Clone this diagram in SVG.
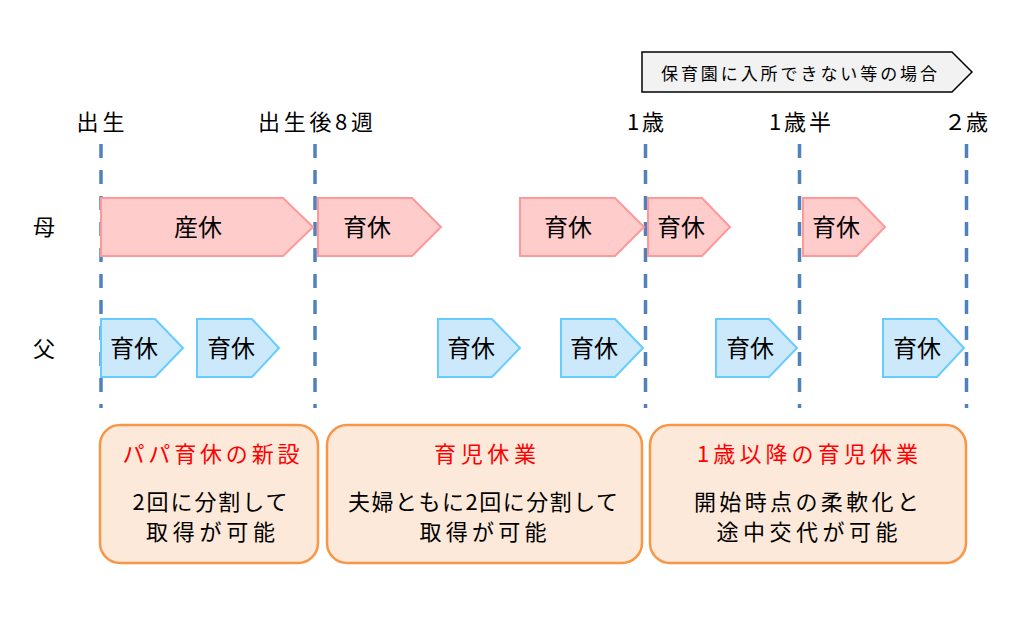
<svg xmlns="http://www.w3.org/2000/svg" width="1024" height="625" viewBox="0 0 1024 625">
<style>
text{font-family:"Noto Sans CJK JP","Noto Sans CJK SC",sans-serif;fill:#000;text-anchor:middle}
.lbl{font-size:22px}
.tag{font-size:24px}
.mom{fill:#ffcccc;stroke:#ff9999;stroke-width:2}
.dad{fill:#cce9fb;stroke:#66ccff;stroke-width:2}
.box{fill:#fde9d9;stroke:#f79646;stroke-width:2.5}
.ttl{font-size:22px;fill:#ff0000}
.body{font-size:22px}
.dash{stroke:#4f81bd;stroke-width:3.5;stroke-dasharray:14 12;fill:none}
</style>
<rect width="1024" height="625" fill="#fff"/>
<g id="connectors">
<line class="dash" x1="101" y1="144" x2="101" y2="408"/>
<line class="dash" x1="315" y1="144" x2="315" y2="408"/>
<line class="dash" x1="645.5" y1="144" x2="645.5" y2="408"/>
<line class="dash" x1="799.5" y1="144" x2="799.5" y2="408"/>
<line class="dash" x1="966.5" y1="144" x2="966.5" y2="408"/>
</g>
<g id="note">
<polygon points="642,52 952,52 972,72 952,92 642,92" fill="#f2f2f2" stroke="#000" stroke-width="1.5"/>
<text x="799" y="80" style="font-size:17px" textLength="276" lengthAdjust="spacing">保育園に入所できない等の場合</text>
</g>
<g id="timeline-labels">
<text class="lbl" x="100.5" y="130" textLength="48" lengthAdjust="spacing">出生</text>
<text class="lbl" x="315.5" y="130" textLength="115" lengthAdjust="spacing">出生後8週</text>
<text class="lbl" x="645.5" y="130" textLength="37" lengthAdjust="spacing">1歳</text>
<text class="lbl" x="800" y="130" textLength="62" lengthAdjust="spacing">1歳半</text>
<text class="lbl" x="966" y="130" textLength="44" lengthAdjust="spacing">２歳</text>
</g>
<g id="row-labels">
<text class="lbl" x="44" y="235">母</text>
<text class="lbl" x="44" y="357">父</text>
</g>
<g id="mother">
<g id="m1"><polygon class="mom" points="101,198 283,198 313,227 283,256 101,256"/><text class="tag" x="198" y="236">産休</text></g>
<g id="m2"><polygon class="mom" points="318,198 412,198 441,227 412,256 318,256"/><text class="tag" x="367" y="236">育休</text></g>
<g id="m3"><polygon class="mom" points="520,198 615,198 644,227 615,256 520,256"/><text class="tag" x="568" y="236">育休</text></g>
<g id="m4"><polygon class="mom" points="648,198 702,198 730,227 702,256 648,256"/><text class="tag" x="681" y="236">育休</text></g>
<g id="m5"><polygon class="mom" points="803,198 857,198 885,227 857,256 803,256"/><text class="tag" x="836" y="236">育休</text></g>
</g>
<g id="father">
<g id="f1"><polygon class="dad" points="101,319 155,319 183,348 155,377 101,377"/><text class="tag" x="134" y="357">育休</text></g>
<g id="f2"><polygon class="dad" points="197,319 252,319 279,348 252,377 197,377"/><text class="tag" x="231" y="357">育休</text></g>
<g id="f3"><polygon class="dad" points="438,319 492,319 520,348 492,377 438,377"/><text class="tag" x="471" y="357">育休</text></g>
<g id="f4"><polygon class="dad" points="561,319 615,319 643,348 615,377 561,377"/><text class="tag" x="594" y="357">育休</text></g>
<g id="f5"><polygon class="dad" points="716,319 769,319 797,348 769,377 716,377"/><text class="tag" x="750" y="357">育休</text></g>
<g id="f6"><polygon class="dad" points="883,319 937,319 964,348 937,377 883,377"/><text class="tag" x="917" y="357">育休</text></g>
</g>
<g id="box1">
<rect class="box" x="100" y="425" width="218" height="138" rx="20"/>
<text class="ttl" x="211" y="462" textLength="177" lengthAdjust="spacing">パパ育休の新設</text>
<text class="body" x="210" y="510" textLength="155" lengthAdjust="spacing">2回に分割して</text>
<text class="body" x="210.5" y="540" textLength="129" lengthAdjust="spacing">取得が可能</text>
</g>
<g id="box2">
<rect class="box" x="327" y="425" width="315" height="138" rx="20"/>
<text class="ttl" x="485" y="462" textLength="102" lengthAdjust="spacing">育児休業</text>
<text class="body" x="483" y="510" textLength="270" lengthAdjust="spacing">夫婦ともに2回に分割して</text>
<text class="body" x="483" y="540" textLength="127" lengthAdjust="spacing">取得が可能</text>
</g>
<g id="box3">
<rect class="box" x="650" y="425" width="316" height="138" rx="20"/>
<text class="ttl" x="807.5" y="462" textLength="221" lengthAdjust="spacing">1歳以降の育児休業</text>
<text class="body" x="806.5" y="510" textLength="225" lengthAdjust="spacing">開始時点の柔軟化と</text>
<text class="body" x="807" y="540" textLength="181" lengthAdjust="spacing">途中交代が可能</text>
</g>
</svg>
